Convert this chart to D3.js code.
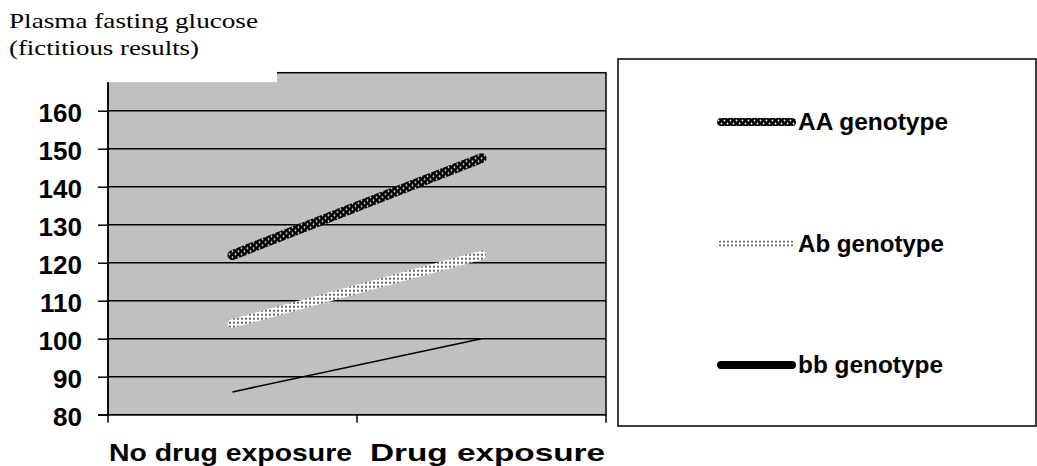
<!DOCTYPE html>
<html>
<head>
<meta charset="utf-8">
<script src="https://cdn.jsdelivr.net/npm/d3@7"></script>
<style>
  body { margin: 0; background: #fff; }
  svg { display: block; }
</style>
</head>
<body>
<div id="main_plot"></div>
<script>
// chart values
var categories = ["No drug exposure", "Drug exposure"];
var seriesNames = ["AA genotype", "Ab genotype", "bb genotype"];
var aaValues = [122, 147.5];
var abValues = [104, 122];
var bbValues = [86, 100];
var yTicks = [80, 90, 100, 110, 120, 130, 140, 150, 160];
var titleLines = ["Plasma fasting glucose", "(fictitious results)"];

// dimensions
var W = 1037, H = 466;
var margin = {top: 72.7, right: 431, bottom: 51.3, left: 108},
    width = W - margin.left - margin.right,
    height = H - margin.top - margin.bottom;

var svg = d3.select("#main_plot")
  .append("svg")
  .attr("width", W)
  .attr("height", H);

var defs = svg.append("defs");

// black line with white dots
var pBlack = defs.append("pattern")
  .attr("id", "dotsBlack")
  .attr("patternUnits", "userSpaceOnUse")
  .attr("width", 6).attr("height", 6);
pBlack.append("rect").attr("width", 6).attr("height", 6).attr("fill", "#000");
pBlack.append("circle").attr("cx", 1.5).attr("cy", 1.5).attr("r", 0.9).attr("fill", "#fff");
pBlack.append("circle").attr("cx", 4.5).attr("cy", 4.5).attr("r", 0.9).attr("fill", "#fff");

// white line with dark dots
var pWhite = defs.append("pattern")
  .attr("id", "dotsWhite")
  .attr("patternUnits", "userSpaceOnUse")
  .attr("width", 4).attr("height", 4);
pWhite.append("rect").attr("width", 4).attr("height", 4).attr("fill", "#fff");
pWhite.append("circle").attr("cx", 2).attr("cy", 2).attr("r", 1).attr("fill", "#333");

var g = svg.append("g")
  .attr("transform", "translate(" + margin.left + "," + margin.top + ")");

// scales
var x = d3.scaleBand()
  .domain(categories)
  .range([0, width])
  .padding(0);

var y = d3.scaleLinear()
  .domain([80, 170])
  .range([height, 0]);

// plot background with border
g.append("rect")
  .attr("width", width)
  .attr("height", height)
  .attr("fill", "#c0c0c0")
  .attr("stroke", "#000")
  .attr("stroke-width", 1.5);

// gridlines
g.append("g")
  .selectAll("line")
  .data(yTicks.slice(1))
  .join("line")
    .attr("x1", 0).attr("x2", width)
    .attr("y1", function(d) { return y(d); })
    .attr("y2", function(d) { return y(d); })
    .attr("stroke", "#000")
    .attr("stroke-width", 1.5);

// white box from the title area sitting over the top-left of the plot
g.append("rect")
  .attr("x", -2)
  .attr("y", -2)
  .attr("width", 171)
  .attr("height", y(167.5) + 2)
  .attr("fill", "#fff");

// y axis
var yAxis = g.append("g")
  .call(d3.axisLeft(y)
    .tickValues(yTicks)
    .tickSize(10)
    .tickSizeOuter(0)
    .tickPadding(16));
yAxis.select(".domain")
  .attr("d", "M0," + y(167.5) + "V" + height)
  .attr("stroke-width", 1.5);
yAxis.selectAll(".tick line").attr("stroke-width", 1.5);
yAxis.selectAll(".tick text")
  .attr("font-family", "Arial, 'Liberation Sans', sans-serif")
  .attr("font-weight", "bold")
  .attr("font-size", 26)
  .attr("dy", "0.4em")
  .attr("fill", "#000");

// x axis (ticks on band edges)
var xAxisG = g.append("g")
  .attr("transform", "translate(0," + height + ")");
xAxisG.append("line")
  .attr("x1", -10).attr("x2", width)
  .attr("stroke", "#000").attr("stroke-width", 1.5);
xAxisG.selectAll("line.edge")
  .data(categories.concat(["end"]))
  .join("line")
    .attr("class", "edge")
    .attr("x1", function(d, i) { return i < categories.length ? x(d) : width; })
    .attr("x2", function(d, i) { return i < categories.length ? x(d) : width; })
    .attr("y1", 0).attr("y2", 8)
    .attr("stroke", "#000").attr("stroke-width", 1.5);
var xLabelStart = [1, 262];
var xLabelLength = [243, 235];
xAxisG.selectAll("text")
  .data(categories)
  .join("text")
    .attr("x", function(d, i) { return xLabelStart[i]; })
    .attr("y", 46)
    .attr("font-family", "Arial, 'Liberation Sans', sans-serif")
    .attr("font-weight", "bold")
    .attr("font-size", 24)
    .attr("textLength", function(d, i) { return xLabelLength[i]; })
    .attr("lengthAdjust", "spacingAndGlyphs")
    .text(function(d) { return d; });

// lines
var line = d3.line()
  .x(function(d, i) { return x(categories[i]) + x.bandwidth() / 2; })
  .y(function(d) { return y(d); });

g.append("path")
  .datum(bbValues)
  .attr("d", line)
  .attr("fill", "none")
  .attr("stroke", "#000")
  .attr("stroke-width", 1.5);

g.append("path")
  .datum(abValues)
  .attr("d", line)
  .attr("fill", "none")
  .attr("stroke", "url(#dotsWhite)")
  .attr("stroke-width", 9)
  .attr("stroke-linecap", "round");

g.append("path")
  .datum(aaValues)
  .attr("d", line)
  .attr("fill", "none")
  .attr("stroke", "url(#dotsBlack)")
  .attr("stroke-width", 10)
  .attr("stroke-linecap", "round");

// title
var titleLength = [249, 190];
svg.append("g")
  .selectAll("text")
  .data(titleLines)
  .join("text")
    .attr("x", 9)
    .attr("y", function(d, i) { return 28 + i * 27; })
    .attr("font-family", "'Times New Roman', 'Liberation Serif', serif")
    .attr("font-size", 21)
    .attr("textLength", function(d, i) { return titleLength[i]; })
    .attr("lengthAdjust", "spacingAndGlyphs")
    .text(function(d) { return d; });

// legend
var legend = svg.append("g").attr("transform", "translate(618,59)");
legend.append("rect")
  .attr("width", 418)
  .attr("height", 367)
  .attr("fill", "#fff")
  .attr("stroke", "#000")
  .attr("stroke-width", 1.5);

var legendStroke = ["url(#dotsBlack)", "url(#dotsWhite)", "#000"];
var legendWidth = [8, 6, 8];
var legendLength = [150, 146, 145];
var items = legend.selectAll("g.item")
  .data(seriesNames)
  .join("g")
    .attr("class", "item")
    .attr("transform", function(d, i) { return "translate(0," + (63 + i * 121.5) + ")"; });
items.append("line")
  .attr("x1", 103).attr("x2", 174)
  .attr("stroke", function(d, i) { return legendStroke[i]; })
  .attr("stroke-width", function(d, i) { return legendWidth[i]; })
  .attr("stroke-linecap", "round");
items.append("text")
  .attr("x", 180)
  .attr("y", 8)
  .attr("font-family", "Arial, 'Liberation Sans', sans-serif")
  .attr("font-weight", "bold")
  .attr("font-size", 23)
  .attr("textLength", function(d, i) { return legendLength[i]; })
  .attr("lengthAdjust", "spacingAndGlyphs")
  .text(function(d) { return d; });
</script>
</body>
</html>
